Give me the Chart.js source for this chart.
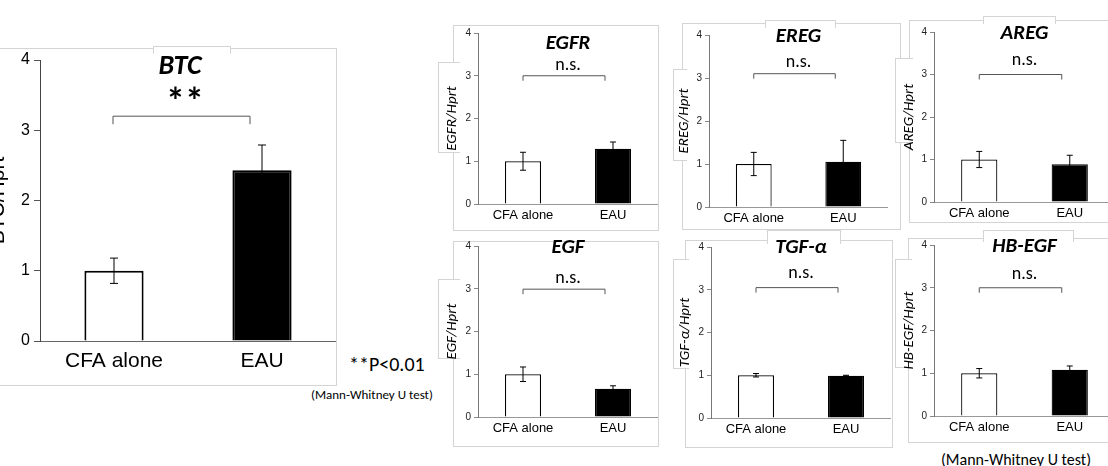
<!DOCTYPE html>
<html>
<head>
<meta charset="utf-8">
<script src="https://cdn.jsdelivr.net/npm/chart.js@4.4.1/dist/chart.umd.min.js"></script>
<style>
body { margin: 0; width: 1108px; height: 466px; overflow: hidden; background: #fff; position: relative; }
.box { position: absolute; border: 1px solid #d4d4d4; box-sizing: border-box; background: #fff; }
.tabl { position: absolute; border: 1px solid #d4d4d4; border-right: none; box-sizing: border-box; background: #fff; }
.tabt { position: absolute; border: 1px solid #d4d4d4; border-bottom: none; box-sizing: border-box; background: #fff; }
canvas { position: absolute; }
.note { position: absolute; white-space: nowrap; color: #000; font-family: Carlito, 'Liberation Sans Narrow', 'Liberation Sans', sans-serif; }
</style>
</head>
<body>
<!-- panel outlines -->
<div class="box" style="left:-2px;top:48px;width:339px;height:338px"></div>
<div class="tabt" style="left:153px;top:46px;width:78px;height:8px"></div>

<div class="box" style="left:453px;top:25px;width:206px;height:206px"></div>
<div class="tabl" style="left:438px;top:62px;width:22px;height:91px"></div>

<div class="box" style="left:682px;top:23px;width:219px;height:207px"></div>
<div class="tabt" style="left:765px;top:20px;width:71px;height:8px"></div>
<div class="tabl" style="left:673px;top:69px;width:14px;height:92px"></div>

<div class="box" style="left:909px;top:20px;width:210px;height:203px"></div>
<div class="tabt" style="left:983px;top:16px;width:73px;height:8px"></div>
<div class="tabl" style="left:895px;top:58px;width:18px;height:85px"></div>

<div class="box" style="left:453px;top:241px;width:206px;height:206px"></div>
<div class="tabl" style="left:438px;top:279px;width:22px;height:80px"></div>

<div class="box" style="left:685px;top:240px;width:208px;height:208px"></div>
<div class="tabt" style="left:767px;top:230px;width:74px;height:14px"></div>
<div class="tabl" style="left:673px;top:259px;width:16px;height:110px"></div>

<div class="box" style="left:908px;top:238px;width:210px;height:205px"></div>
<div class="tabt" style="left:983px;top:230px;width:91px;height:12px"></div>
<div class="tabl" style="left:895px;top:259px;width:17px;height:109px"></div>

<canvas id="btc" width="356" height="345" style="left:-20px;top:40px"></canvas>
<canvas id="egfr" width="220" height="210" style="left:438px;top:20px"></canvas>
<canvas id="ereg" width="215" height="212" style="left:673px;top:20px"></canvas>
<canvas id="areg" width="220" height="206" style="left:895px;top:16px"></canvas>
<canvas id="egf" width="220" height="210" style="left:438px;top:236px"></canvas>
<canvas id="tgfa" width="218" height="211" style="left:673px;top:236px"></canvas>
<canvas id="hbegf" width="220" height="206" style="left:895px;top:236px"></canvas>

<div class="note" style="left:349px;top:352px;font-size:20px">**P&lt;0.01</div>
<div class="note" style="left:311px;top:387px;font-size:13px">(Mann-Whitney U test)</div>
<div class="note" style="left:941px;top:450px;font-size:16px">(Mann-Whitney U test)</div>

<script>
const groups = ['CFA alone', 'EAU'];
const yTicks = [0, 1, 2, 3, 4];

const btcMean = [1.0, 2.43];
const btcErr = [0.18, 0.36];
const egfrMean = [1.0, 1.29];
const egfrErr = [0.21, 0.16];
const eregMean = [1.0, 1.05];
const eregErr = [0.27, 0.50];
const aregMean = [1.0, 0.89];
const aregErr = [0.19, 0.21];
const egfMean = [1.0, 0.66];
const egfErr = [0.17, 0.07];
const tgfaMean = [1.0, 0.99];
const tgfaErr = [0.04, 0.01];
const hbegfMean = [1.0, 1.08];
const hbegfErr = [0.11, 0.09];

const calibri = "Carlito, 'Liberation Sans Narrow', 'Liberation Sans', sans-serif";
const arial = "'Liberation Sans', Arial, sans-serif";

// error bars, significance bracket and gene title
const annot = {
    id: 'annot',
    afterDatasetsDraw(chart, args, o) {
        const { ctx } = chart;
        const x = chart.scales.x, y = chart.scales.y;
        ctx.save();
        ctx.strokeStyle = '#000';
        ctx.lineWidth = o.errWidth;
        o.mean.forEach((m, i) => {
            const px = x.getPixelForValue(i);
            const hi = y.getPixelForValue(m + o.err[i]);
            const lo = y.getPixelForValue(m - o.err[i]);
            ctx.beginPath();
            ctx.moveTo(px, hi); ctx.lineTo(px, lo);
            ctx.moveTo(px - o.cap, hi); ctx.lineTo(px + o.cap, hi);
            ctx.moveTo(px - o.cap, lo); ctx.lineTo(px + o.cap, lo);
            ctx.stroke();
        });

        // bracket
        const bx0 = x.getPixelForValue(0) + o.brL;
        const bx1 = x.getPixelForValue(1) + o.brR;
        const by = y.getPixelForValue(o.brVal);
        ctx.strokeStyle = '#555';
        ctx.lineWidth = 1;
        ctx.beginPath();
        ctx.moveTo(bx0, by + o.leg); ctx.lineTo(bx0, by); ctx.lineTo(bx1, by); ctx.lineTo(bx1, by + o.leg);
        ctx.stroke();

        const mid = (x.getPixelForValue(0) + x.getPixelForValue(1)) / 2;
        ctx.fillStyle = '#000';
        ctx.textAlign = 'center';
        ctx.textBaseline = 'middle';
        ctx.font = o.sigFont;
        ctx.fillText(o.sig, mid + o.sigDx, y.getPixelForValue(o.sigVal));
        ctx.font = o.titleFont;
        ctx.fillText(o.title, mid + o.titleDx, y.getPixelForValue(o.titleVal));
        ctx.restore();
    }
};

function drawPanel(id, mean, err, o) {
    const big = !!o.big;
    return new Chart(document.getElementById(id), {
        type: 'bar',
        data: {
            labels: groups,
            datasets: [{
                data: mean,
                backgroundColor: ['#fff', '#000'],
                borderColor: '#000',
                borderWidth: big ? 2 : 1.2,
                barPercentage: 0.4,
                categoryPercentage: 1,
            }],
        },
        options: {
            responsive: false,
            animation: false,
            layout: { padding: { top: o.padTop, left: 0, right: 0, bottom: 0 } },
            plugins: {
                legend: { display: false },
                tooltip: { enabled: false },
                annot: {
                    mean, err,
                    title: o.title, titleVal: o.titleVal, titleDx: o.titleDx || 0,
                    sig: o.sig, sigVal: o.sigVal, sigDx: o.sigDx || 0,
                    brVal: o.brVal, leg: big ? 8 : 5,
                    brL: big ? -1 : 0, brR: big ? -12 : -8,
                    cap: big ? 4 : 3, errWidth: 1,
                    titleFont: `italic bold ${big ? 28 : 21}px ${calibri}`,
                    sigFont: big ? `bold 38px ${calibri}` : `18px ${calibri}`,
                },
            },
            scales: {
                x: {
                    grid: { display: false, drawTicks: false, tickLength: 0 },
                    border: { color: big ? '#666' : '#999', width: 1 },
                    ticks: { color: '#000', padding: big ? 8 : 4, font: { family: arial, size: big ? 21 : 13 } },
                    afterFit: (s) => { s.height = o.xH; },
                },
                y: {
                    min: 0,
                    max: 4,
                    afterBuildTicks: (s) => { s.ticks = yTicks.map((v) => ({ value: v })); },
                    grid: { drawOnChartArea: false, tickLength: big ? 6 : 4, color: big ? '#555' : '#888' },
                    border: { color: big ? '#444' : '#777', width: 1 },
                    ticks: { color: big ? '#000' : '#222', padding: big ? 4 : 3, font: { family: arial, size: big ? 16 : 10 } },
                    title: {
                        display: true,
                        text: o.ylabel,
                        color: '#000',
                        padding: { top: o.titlePad, bottom: 0 },
                        font: { family: big ? arial : calibri, size: big ? 21 : 15, style: big ? 'normal' : 'italic' },
                    },
                    afterFit: (s) => { s.width = o.yW; },
                },
            },
        },
        plugins: [annot],
    });
}

drawPanel('btc', btcMean, btcErr, {
    big: true, title: 'BTC', ylabel: 'BTC/Hprt', sig: '**',
    padTop: 20, yW: 60, xH: 44, titlePad: 6,
    titleVal: 3.9, sigVal: 3.36, brVal: 3.2, titleDx: -8, sigDx: -3,
});
drawPanel('egfr', egfrMean, egfrErr, {
    title: 'EGFR', ylabel: 'EGFR/Hprt', sig: 'n.s.',
    padTop: 13, yW: 40, xH: 26, titlePad: 5,
    titleVal: 3.75, sigVal: 3.24, brVal: 3.0,
});
drawPanel('ereg', eregMean, eregErr, {
    title: 'EREG', ylabel: 'EREG/Hprt', sig: 'n.s.',
    padTop: 15, yW: 36, xH: 25, titlePad: 2,
    titleVal: 3.95, sigVal: 3.35, brVal: 3.1,
});
drawPanel('areg', aregMean, aregErr, {
    title: 'AREG', ylabel: 'AREG/Hprt', sig: 'n.s.',
    padTop: 16, yW: 39, xH: 20, titlePad: 5,
    titleVal: 3.97, sigVal: 3.34, brVal: 3.0,
});
drawPanel('egf', egfMean, egfErr, {
    title: 'EGF', ylabel: 'EGF/Hprt', sig: 'n.s.',
    padTop: 10, yW: 40, xH: 29, titlePad: 5,
    titleVal: 3.97, sigVal: 3.25, brVal: 2.99,
});
drawPanel('tgfa', tgfaMean, tgfaErr, {
    title: 'TGF-α', ylabel: 'TGF-α/Hprt', sig: 'n.s.',
    padTop: 11, yW: 38, xH: 29, titlePad: 3,
    titleVal: 3.98, sigVal: 3.39, brVal: 3.05,
});
drawPanel('hbegf', hbegfMean, hbegfErr, {
    title: 'HB-EGF', ylabel: 'HB-EGF/Hprt', sig: 'n.s.',
    padTop: 9, yW: 39, xH: 26, titlePad: 5,
    titleVal: 3.97, sigVal: 3.3, brVal: 3.0,
});
</script>
</body>
</html>
